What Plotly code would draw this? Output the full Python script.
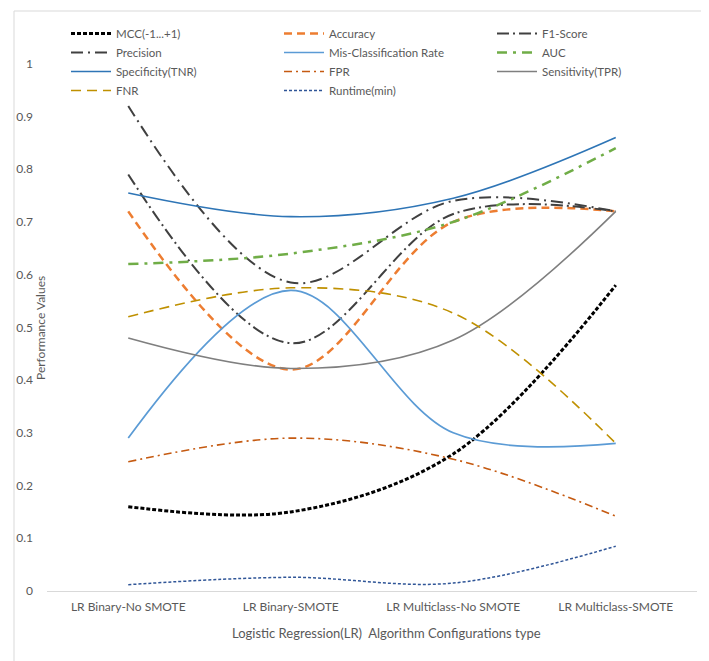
import plotly.graph_objects as go

categories = ["LR Binary-No SMOTE", "LR Binary-SMOTE", "LR Multiclass-No SMOTE", "LR Multiclass-SMOTE"]

mcc = [0.16, 0.15, 0.26, 0.58]
accuracy = [0.72, 0.42, 0.70, 0.72]
f1_score = [0.79, 0.47, 0.715, 0.72]
precision = [0.92, 0.585, 0.74, 0.72]
misclass_rate = [0.29, 0.57, 0.30, 0.28]
auc = [0.62, 0.64, 0.70, 0.84]
specificity = [0.755, 0.71, 0.745, 0.86]
fpr = [0.245, 0.29, 0.25, 0.142]
sensitivity = [0.48, 0.422, 0.476, 0.72]
fnr = [0.52, 0.575, 0.527, 0.28]
runtime = [0.012, 0.026, 0.015, 0.085]

y_ticks = [0, 0.1, 0.2, 0.3, 0.4, 0.5, 0.6, 0.7, 0.8, 0.9, 1]

# name, values, color, width, dash, legend column
series = [
    ("MCC(-1...+1)", mcc, "#000000", 3, "4px,2px", "legend"),
    ("Accuracy", accuracy, "#ED7D31", 2.5, "8px,5px", "legend2"),
    ("F1-Score", f1_score, "#404040", 2, "12px,4px,2px,4px", "legend3"),
    ("Precision", precision, "#404040", 2, "12px,5px,2px,5px", "legend"),
    ("Mis-Classification Rate", misclass_rate, "#5B9BD5", 1.7, "solid", "legend2"),
    ("AUC", auc, "#70AD47", 2.5, "10px,6px,3px,6px", "legend3"),
    ("Specificity(TNR)", specificity, "#2E75B6", 1.6, "solid", "legend"),
    ("FPR", fpr, "#C55A11", 1.6, "8px,4px,2px,4px", "legend2"),
    ("Sensitivity(TPR)", sensitivity, "#7F7F7F", 1.6, "solid", "legend3"),
    ("FNR", fnr, "#BF9000", 1.6, "10px,6px", "legend"),
    ("Runtime(min)", runtime, "#2F5597", 1.5, "3px,2px", "legend2"),
]

fig = go.Figure()
for name, vals, color, width, dash, leg in series:
    fig.add_trace(go.Scatter(
        x=categories, y=vals, name=name, mode="lines", legend=leg,
        line=dict(color=color, width=width, dash=dash, shape="spline", smoothing=1.0),
    ))

# the page body has an 8px margin, so the figure is sized to the remaining window
OFF = 8
W, H = 709 - OFF, 661 - OFF
ml, mr, mt, mb = 47 - OFF, 12, 3, 70
pw = W - ml - mr
ph = H - mt - mb

def px2paper_x(px):
    return (px - OFF - ml) / pw

def px2paper_y(py):
    return (H - mb - (py - OFF)) / ph

font_family = "Lato, 'Open Sans', sans-serif"
gray = "#595959"

def legend_at(px):
    return dict(
        orientation="v", x=px2paper_x(px), y=px2paper_y(19), xanchor="left", yanchor="top",
        tracegroupgap=0, font=dict(family=font_family, size=11.5, color=gray),
        bgcolor="rgba(0,0,0,0)", itemwidth=40,
    )

fig.update_layout(
    width=W, height=H,
    margin=dict(l=ml, r=mr, t=mt, b=mb, autoexpand=False),
    paper_bgcolor="white", plot_bgcolor="white",
    font=dict(family=font_family, size=12, color=gray),
    showlegend=True,
    legend=legend_at(66),
    legend2=legend_at(279),
    legend3=legend_at(492),
    xaxis=dict(
        type="category", range=[-0.5, 3.5], showgrid=False, zeroline=False,
        showline=True, linecolor="#D9D9D9", linewidth=1, ticks="",
        tickfont=dict(family=font_family, size=12, color=gray),
        fixedrange=True, automargin=False, ticklabelstandoff=5,
    ),
    yaxis=dict(
        range=[0, 1.1], tickvals=y_ticks, ticktext=[("%g" % v) for v in y_ticks],
        showgrid=False, zeroline=False, showline=False, ticks="",
        tickfont=dict(family=font_family, size=12, color=gray),
        ticklabelstandoff=13, automargin=False,
    ),
    shapes=[dict(
        type="rect", xref="paper", yref="paper",
        x0=px2paper_x(14), x1=px2paper_x(702), y0=px2paper_y(668), y1=px2paper_y(11),
        line=dict(color="#D9D9D9", width=1), fillcolor="rgba(0,0,0,0)", layer="below",
    )],
    annotations=[
        dict(text="Performance Values", xref="paper", yref="paper",
             x=px2paper_x(41), y=px2paper_y(328), textangle=-90, showarrow=False,
             font=dict(family=font_family, size=12, color=gray), xanchor="center", yanchor="middle"),
        dict(text="Logistic Regression(LR)  Algorithm Configurations type", xref="paper", yref="paper",
             x=px2paper_x(386), y=px2paper_y(633), showarrow=False,
             font=dict(family=font_family, size=13, color=gray), xanchor="center", yanchor="middle"),
    ],
)

fig.write_html("out.html")
